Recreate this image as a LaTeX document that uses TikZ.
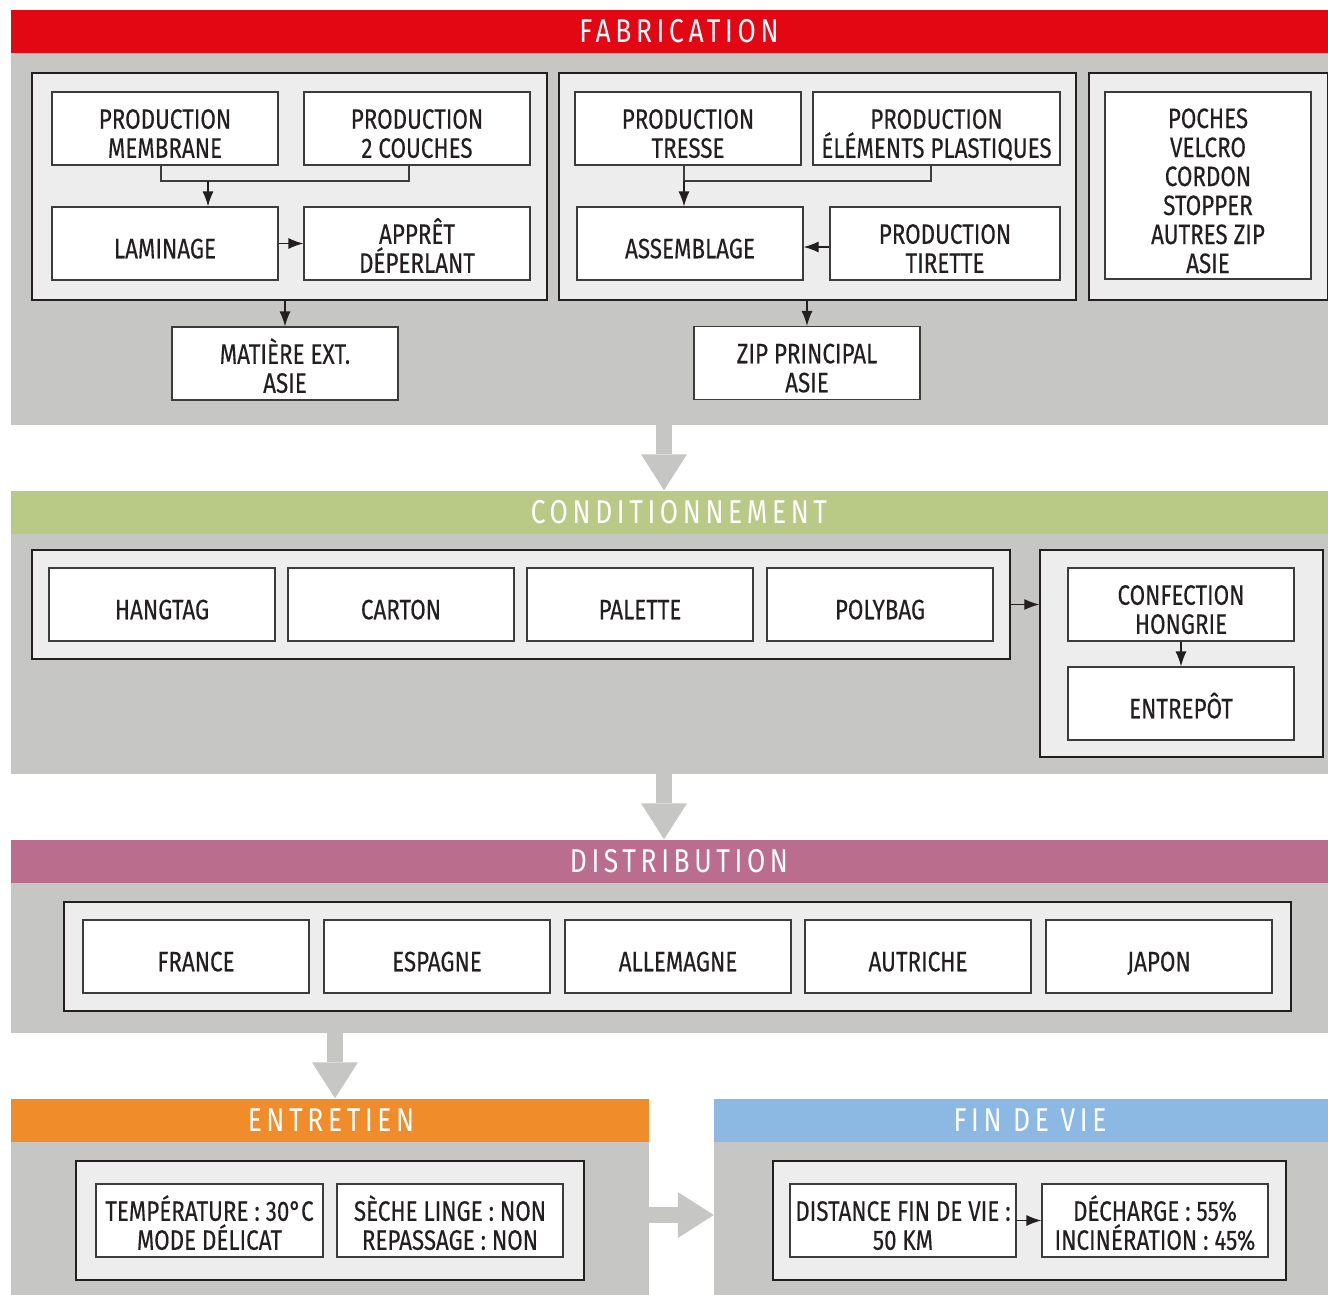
\documentclass[tikz,border=0pt]{standalone}
\usepackage{fontspec}
\setmainfont[FakeStretch=0.8]{Fira Sans}
\usetikzlibrary{arrows.meta}

\definecolor{fabred}{HTML}{E30613}
\definecolor{condgreen}{HTML}{B8CA86}
\definecolor{distpink}{HTML}{BB6D8E}
\definecolor{entorange}{HTML}{F18C2B}
\definecolor{finblue}{HTML}{8BB9E3}
\definecolor{bandgray}{HTML}{C6C6C5}
\definecolor{panelgray}{HTML}{EDEDED}
\definecolor{boxline}{HTML}{3C3C3B}
\definecolor{textdark}{HTML}{231F20}

\tikzset{
	bar/.style = {fill=#1, inner sep=0, minimum height=43},
	title/.style = {inner sep=0, text=white,
		font=\fontsize{33}{33}\selectfont\addfontfeatures{LetterSpace=14}},
	back/.style = {fill=bandgray, inner sep=0},
	panel/.style = {draw=textdark, line width=1.5pt, fill=panelgray, inner sep=0},
	box/.style = {draw=boxline, line width=1.2pt, fill=white, inner sep=0,
		minimum width=226, minimum height=73, align=center, text=textdark,
		text height=29.5pt, text depth=0pt,
		font=\fontsize{28}{29}\selectfont\addfontfeatures{FakeBold=0.25}},
	two/.style = {text height=58.5pt},
	arr/.style = {draw=textdark, line width=1.2pt, -{Latex[length=15pt,width=11pt]}},
	big/.style = {draw=bandgray, line width=16pt,
		-{Triangle[length=36pt,width=46pt,line width=0pt]}}
}

\begin{document}
\begin{tikzpicture}[x=1pt, y=-1pt]
		\useasboundingbox (0,0) rectangle (1328,1295);
		
		% fabrication
		\node (fabback) at (669.5,239) [back, minimum width=1317, minimum height=372] {};
		\node (fabbar) at (669.5,31.5) [bar=fabred, minimum width=1317] {};
		\node (fabtitle) at (679,31.5) [title] {FABRICATION};
		
		\node (panA) at (289.5,186.5) [panel, minimum width=515, minimum height=227] {};
		\node (pm) at (165,128.5) [box, two] {PRODUCTION\\MEMBRANE};
		\node (p2c) at (417,128.5) [box, two] {PRODUCTION\\2 COUCHES};
		\node (lam) at (165,243.5) [box] {LAMINAGE};
		\node (app) at (417,243.5) [box, two] {APPRÊT\\DÉPERLANT};
		\node (mat) at (285,363.5) [box, two] {MATIÈRE EXT.\\ASIE};
		\coordinate (jA) at (208,181);
		
		\draw [line width=1.2pt, boxline] (pm.south -| 161,0) -- (161,181) -| (p2c.south -| 409,0);
		\draw [arr] (jA) -- (jA |- lam.north);
		\draw [arr] (lam) -- (app);
		\draw [arr] (mat.north |- panA.south) -- (mat);
		
		\node (panB) at (817.5,186.5) [panel, minimum width=517, minimum height=227] {};
		\node (pt) at (688,128.5) [box, two] {PRODUCTION\\TRESSE};
		\node (pep) at (936.5,128.5) [box, two, minimum width=247] {PRODUCTION\\ÉLÉMENTS PLASTIQUES};
		\node (asm) at (690,243.5) [box] {ASSEMBLAGE};
		\node (tir) at (945,243.5) [box, two, minimum width=230] {PRODUCTION\\TIRETTE};
		\node (zip) at (807,363) [box, two] {ZIP PRINCIPAL\\ASIE};
		\coordinate (jB) at (684,181);
		
		\draw [line width=1.2pt, boxline] (pt.south -| jB) -- (jB) -| (pep.south -| 931,0);
		\draw [arr] (jB) -- (jB |- asm.north);
		\draw [arr] (tir.west |- 0,247) -- (asm.east |- 0,247);
		\draw [arr] (zip.north |- panB.south) -- (zip);
		
		\node (panC) at (1208.5,186.5) [panel, minimum width=239, minimum height=227] {};
		\node (poc) at (1208,185.5) [box, text height=175pt, minimum width=206, minimum height=187]
			{POCHES\\VELCRO\\CORDON\\STOPPER\\AUTRES ZIP\\ASIE};
		
		% conditionnement
		\node (condback) at (669.5,653.5) [back, minimum width=1317, minimum height=241] {};
		\node (condbar) at (669.5,512) [bar=condgreen, minimum width=1317] {};
		\node (condtitle) at (679,512) [title] {CONDITIONNEMENT};
		\coordinate (a1) at (664,425);
		\draw [big] (a1) -- (a1 |- condbar.north);
		
		\node (panD) at (521,604.5) [panel, minimum width=978, minimum height=109] {};
		\node (hang) at (162,604.5) [box] {HANGTAG};
		\node (cart) at (401,604.5) [box] {CARTON};
		\node (pal) at (640,604.5) [box] {PALETTE};
		\node (poly) at (880,604.5) [box] {POLYBAG};
		
		\node (panE) at (1181.5,653.5) [panel, minimum width=283, minimum height=207] {};
		\node (conf) at (1181,604.5) [box, two] {CONFECTION\\HONGRIE};
		\node (entr) at (1181,703.5) [box] {ENTREPÔT};
		
		\draw [arr] (panD.east) -- (panE.west |- panD.east);
		\draw [arr] (conf) -- (entr);
		
		% distribution
		\node (distback) at (669.5,957.5) [back, minimum width=1317, minimum height=151] {};
		\node (distbar) at (669.5,861) [bar=distpink, minimum width=1317] {};
		\node (disttitle) at (679,861) [title] {DISTRIBUTION};
		\coordinate (a2) at (664,774);
		\draw [big] (a2) -- (a2 |- distbar.north);
		
		\node (panF) at (677.5,956.5) [panel, minimum width=1227, minimum height=109] {};
		\node (fr) at (196,956.5) [box] {FRANCE};
		\node (es) at (437,956.5) [box] {ESPAGNE};
		\node (al) at (678,956.5) [box] {ALLEMAGNE};
		\node (au) at (918,956.5) [box] {AUTRICHE};
		\node (ja) at (1159,956.5) [box] {JAPON};
		
		% entretien
		\node (entback) at (330,1218) [back, minimum width=638, minimum height=154] {};
		\node (entbar) at (330,1120) [bar=entorange, minimum width=638] {};
		\node (enttitle) at (331,1120) [title] {ENTRETIEN};
		\coordinate (a3) at (335,1033);
		\draw [big] (a3) -- (a3 |- entbar.north);
		
		\node (panG) at (330,1220.5) [panel, minimum width=508, minimum height=119] {};
		\node (temp) at (209.5,1220.5) [box, two, minimum width=227] {TEMPÉRATURE : 30°C\\MODE DÉLICAT};
		\node (sec) at (450,1220.5) [box, two] {SÈCHE LINGE : NON\\REPASSAGE : NON};
		
		% fin de vie
		\node (finback) at (1021,1218) [back, minimum width=614, minimum height=154] {};
		\node (finbar) at (1021,1120) [bar=finblue, minimum width=614] {};
		\node (fintitle) at (1030,1120) [title] {FIN DE VIE};
		\coordinate (a4) at (649,1215);
		\draw [big] (a4) -- (a4 -| finback.west);
		
		\node (panH) at (1029.5,1220.5) [panel, minimum width=513, minimum height=119] {};
		\node (dist) at (903,1220.5) [box, two] {DISTANCE FIN DE VIE :\\50 KM};
		\node (dech) at (1155,1220.5) [box, two] {DÉCHARGE : 55\%\\INCINÉRATION : 45\%};
		
		\draw [arr] (dist) -- (dech);
		\end{tikzpicture}
\end{document}
